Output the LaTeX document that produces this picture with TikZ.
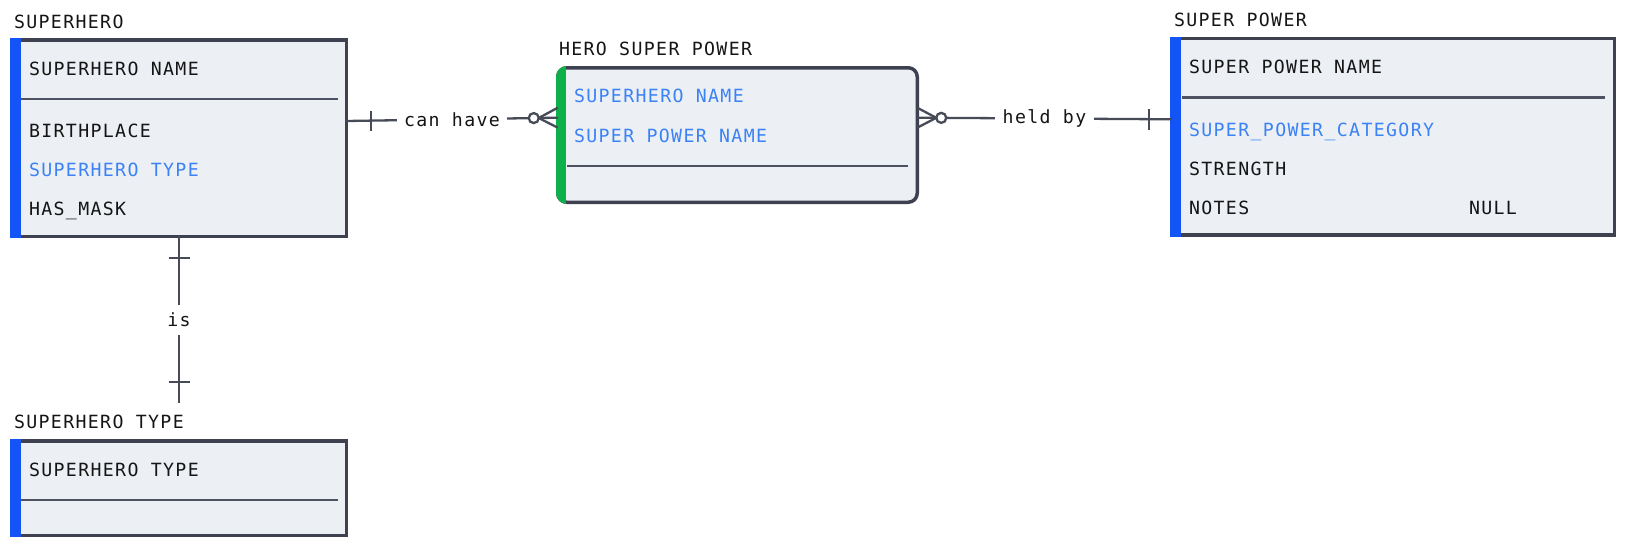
\documentclass[tikz,border=0pt]{standalone}
\usepackage{fontspec}
\newfontfamily\ermono[LetterSpace=7.5]{DejaVu Sans Mono}
\usetikzlibrary{calc}
\definecolor{entfill}{HTML}{ECEFF4}
\definecolor{entborder}{HTML}{3E4250}
\definecolor{barblue}{HTML}{1254F6}
\definecolor{keyblue}{HTML}{3B82F6}
\definecolor{bargreen}{HTML}{0DB04B}
\definecolor{conncol}{HTML}{474B57}
\definecolor{sepcol}{HTML}{4E5260}
\definecolor{txtblack}{HTML}{151515}
\begin{document}
\begin{tikzpicture}[x=1pt,y=-1pt,
  font=\ermono\fontsize{18.2}{21}\selectfont,
  ent/.style={draw=entborder, line width=3.5pt, fill=entfill, rectangle, inner sep=0pt, outer sep=0pt, anchor=north west},
  txt/.style={anchor=base west, inner sep=0pt, outer sep=0pt, text=txtblack},
  keytxt/.style={txt, text=keyblue},
  sepline/.style={draw=sepcol, line width=2.6pt},
  conn/.style={draw=conncol, line width=2.3pt},
  lbl/.style={fill=white, text=txtblack, inner xsep=7pt, inner ysep=2pt}]
\useasboundingbox (0,0) rectangle (1626,544);

% ---------- SUPERHERO ----------
\node[ent, minimum width=334.5pt, minimum height=196.5pt] (sh) at (11.75,39.75) {};
\fill[barblue] (10,38) rectangle (20.5,238);
\node[txt] (shT) at (14,28) {SUPERHERO};
\node[txt] (sh1) at (29,75) {SUPERHERO NAME};
\draw[sepline] (20.5,99) -- (338,99);
\node[txt] (sh2) at (29,137.5) {BIRTHPLACE};
\node[keytxt] (sh3) at (29,176.5) {SUPERHERO TYPE};
\node[txt] (sh4) at (29,215.5) {HAS\_MASK};

% ---------- HERO SUPER POWER ----------
\node[ent, rounded corners=9pt, minimum width=359.5pt, minimum height=134.5pt] (hsp) at (557.75,67.75) {};
\begin{scope}
  \clip[rounded corners=10.75pt] (556,66) rectangle (919,204);
  \fill[bargreen] (556,66) rectangle (566,204);
\end{scope}
\node[txt] (hspT) at (559,55) {HERO SUPER POWER};
\node[keytxt] (hsp1) at (574,102.5) {SUPERHERO NAME};
\node[keytxt] (hsp2) at (574,142) {SUPER POWER NAME};
\draw[sepline] (567,166) -- (908,166);

% ---------- SUPER POWER ----------
\node[ent, minimum width=442.5pt, minimum height=196.5pt] (sp) at (1171.75,38.45) {};
\fill[barblue] (1170,36.7) rectangle (1181,236.7);
\node[txt] (spT) at (1174,26.7) {SUPER POWER};
\node[txt] (sp1) at (1189,73.5) {SUPER POWER NAME};
\draw[sepline] (1182,97.7) -- (1605,97.7);
\node[keytxt] (sp2) at (1189,136) {SUPER\_POWER\_CATEGORY};
\node[txt] (sp3) at (1189,175) {STRENGTH};
\node[txt] (sp4) at (1189,214) {NOTES};
\node[txt] (sp4n) at (1469,214) {NULL};

% ---------- SUPERHERO TYPE ----------
\node[ent, minimum width=334.5pt, minimum height=94.2pt] (sht) at (11.75,441.05) {};
\fill[barblue] (10,439.3) rectangle (20.5,537);
\node[txt] (shtT) at (14,428.3) {SUPERHERO TYPE};
\node[txt] (sht1) at (29,476.7) {SUPERHERO TYPE};
\draw[sepline] (20.5,500) -- (338,500);

% ---------- can have ----------
\coordinate (chA) at ([yshift=17pt]sh.east);
\coordinate (chB) at ([yshift=17.3pt]hsp.west);
\draw[conn] (chA) -- node[lbl] (chL) {can have} (chB);
\coordinate (chT) at ($(chA)!24.5pt!(chB)$);
\draw[conn] (chT) ++(0,-10) -- ++(0,20);
\coordinate (chV) at ($(chB)!19pt!(chA)$);
\coordinate (chC) at ($(chB)!24pt!(chA)$);
\draw[conn] ([yshift=10pt]chB) -- (chV) -- ([yshift=-10pt]chB);
\draw[conn, fill=white] (chC) circle[radius=5pt];

% ---------- held by ----------
\coordinate (hbA) at ([yshift=17.3pt]hsp.east);
\coordinate (hbB) at ([yshift=17.4pt]sp.west);
\draw[conn] (hbA) -- node[lbl, inner xsep=8pt] (hbL) {held by} (hbB);
\coordinate (hbV) at ($(hbA)!19pt!(hbB)$);
\coordinate (hbC) at ($(hbA)!24pt!(hbB)$);
\draw[conn] ([yshift=10pt]hbA) -- (hbV) -- ([yshift=-10pt]hbA);
\draw[conn, fill=white] (hbC) circle[radius=5pt];
\coordinate (hbT) at ($(hbB)!23pt!(hbA)$);
\draw[conn] (hbT) ++(0,-10.5) -- ++(0,21);

% ---------- is ----------
\coordinate (isA) at (sh.south);
\coordinate (isB) at ([yshift=38pt]sht.north);
\draw[conn] (isA) -- node[lbl, inner xsep=4pt, inner ysep=8pt] (isL) {is} (isB);
\coordinate (isT1) at ($(isA)!22pt!(isB)$);
\coordinate (isT2) at ($(isB)!21pt!(isA)$);
\draw[conn] (isT1) ++(-10.5,0) -- ++(21,0);
\draw[conn] (isT2) ++(-10.5,0) -- ++(21,0);
\end{tikzpicture}
\end{document}
